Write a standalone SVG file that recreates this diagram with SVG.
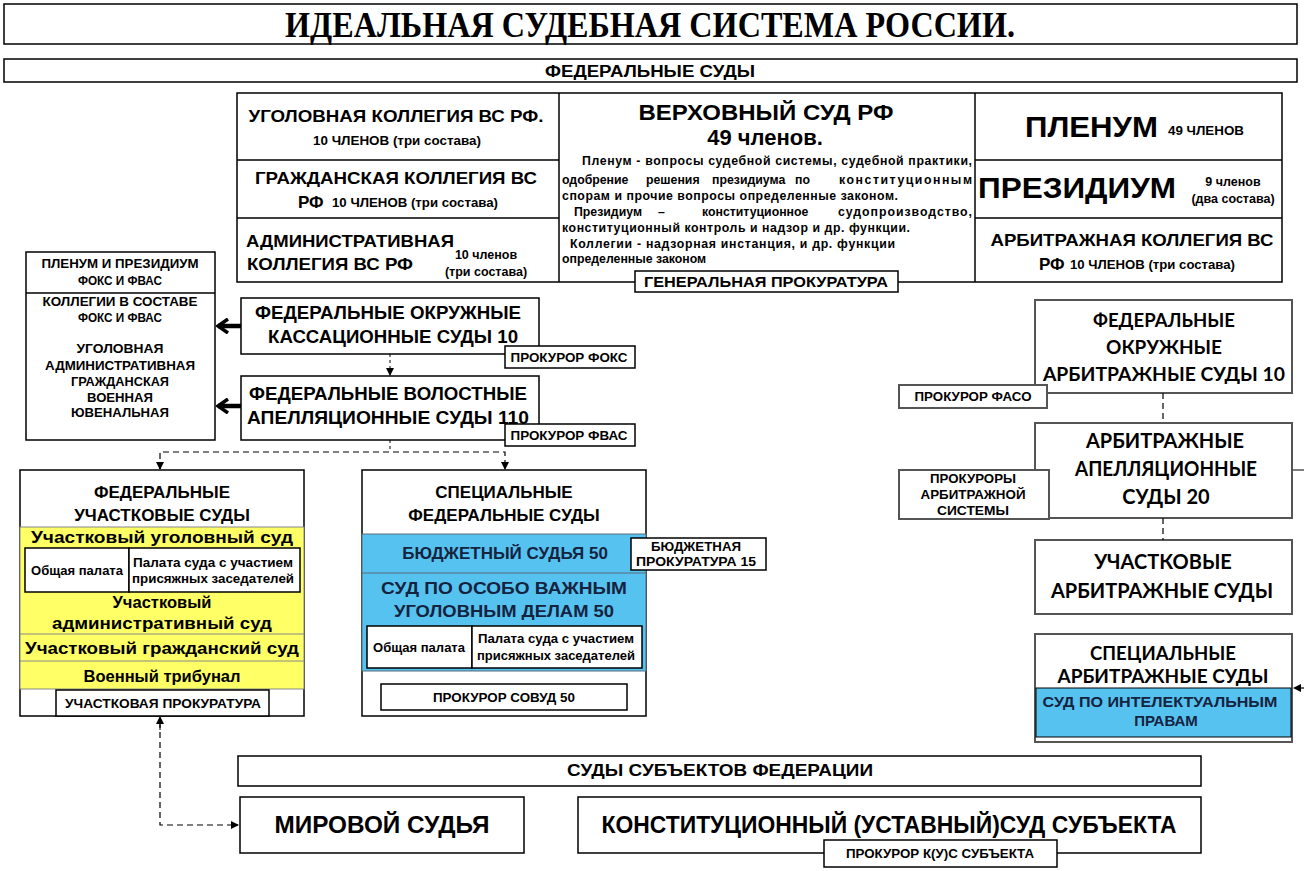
<svg xmlns="http://www.w3.org/2000/svg" width="1304" height="871" viewBox="0 0 1304 871">
<defs>
<style>
text{font-family:"Liberation Sans",Arial,sans-serif;font-weight:bold;fill:#000;}
.c{text-anchor:middle;}
.box{fill:#fff;stroke:#000;stroke-width:1.5;}
.gbox{fill:#fff;stroke:#555;stroke-width:2;}
.ln{stroke:#000;stroke-width:1.5;fill:none;}
.yl{fill:#ffff66;stroke:#888;stroke-width:1;}
.bl{fill:#55c2ef;stroke:#5a6b7a;stroke-width:1;}
.navy{fill:#15233f;}
.cal{font-family:Lato,"Open Sans",sans-serif;}
.dash{stroke:#000;stroke-width:1.2;fill:none;stroke-dasharray:6 4;}
.dot{stroke:#000;stroke-width:1;fill:none;stroke-dasharray:3 3;}
</style>
<marker id="ah" markerWidth="8" markerHeight="8" refX="7" refY="4" orient="auto" markerUnits="userSpaceOnUse">
<path d="M0,0 L8,4 L0,8 Z" fill="#000"/>
</marker>
<marker id="thick" markerWidth="14" markerHeight="16" refX="12" refY="8" orient="auto" markerUnits="userSpaceOnUse">
<path d="M2,1 L12,8 L2,15" fill="none" stroke="#000" stroke-width="3.5"/>
</marker>
</defs>
<rect width="1304" height="871" fill="#fff"/>

<g id="title">
<rect class="box" x="4" y="4" width="1293" height="40"/>
<text class="c" x="650" y="37" style="font-family:'Liberation Serif',serif;font-size:36px" textLength="730" lengthAdjust="spacingAndGlyphs">ИДЕАЛЬНАЯ СУДЕБНАЯ СИСТЕМА РОССИИ.</text>
</g>

<g id="federal-courts">
<rect class="box" x="4" y="59" width="1293" height="23"/>
<text class="c" x="650" y="77" font-size="16" textLength="210" lengthAdjust="spacingAndGlyphs">ФЕДЕРАЛЬНЫЕ СУДЫ</text>
</g>

<g id="supreme-court">
<rect class="box" x="237" y="93" width="1045" height="189"/>
<line class="ln" x1="559" y1="93" x2="559" y2="282"/>
<line class="ln" x1="975" y1="93" x2="975" y2="282"/>
<line class="ln" x1="237" y1="160" x2="559" y2="160"/>
<line class="ln" x1="237" y1="218" x2="559" y2="218"/>
<line class="ln" x1="975" y1="160" x2="1282" y2="160"/>
<line class="ln" x1="975" y1="218" x2="1282" y2="218"/>
</g>

<g id="criminal-college">
<text class="c" x="396" y="122" font-size="17" textLength="295" lengthAdjust="spacingAndGlyphs">УГОЛОВНАЯ КОЛЛЕГИЯ ВС РФ.</text>
<text class="c" x="397" y="145" font-size="12.5" textLength="168" lengthAdjust="spacingAndGlyphs">10 ЧЛЕНОВ (три состава)</text>
</g>
<g id="civil-college">
<text class="c" x="396" y="184" font-size="17" textLength="282" lengthAdjust="spacingAndGlyphs">ГРАЖДАНСКАЯ КОЛЛЕГИЯ ВС</text>
<text x="298" y="208" font-size="17">РФ</text>
<text x="332" y="207" font-size="12.5" textLength="166" lengthAdjust="spacingAndGlyphs">10 ЧЛЕНОВ (три состава)</text>
</g>
<g id="admin-college">
<text x="246" y="247" font-size="17" textLength="208" lengthAdjust="spacingAndGlyphs">АДМИНИСТРАТИВНАЯ</text>
<text x="247" y="270" font-size="17" textLength="166" lengthAdjust="spacingAndGlyphs">КОЛЛЕГИЯ ВС РФ</text>
<text class="c" x="486" y="259" font-size="12.5">10 членов</text>
<text class="c" x="486" y="276" font-size="12.5">(три состава)</text>
</g>

<g id="supreme-main">
<text class="c" x="766" y="120" font-size="22" textLength="255" lengthAdjust="spacingAndGlyphs">ВЕРХОВНЫЙ СУД РФ</text>
<text class="c" x="765" y="145" font-size="22">49 членов.</text>
<g font-size="12.3">
<text x="582" y="165" textLength="390" lengthAdjust="spacing">Пленум - вопросы судебной системы, судебной практики,</text>
<text x="562" y="184">одобрение</text>
<text x="646" y="184">решения</text>
<text x="712" y="184">президиума</text>
<text x="795" y="184">по</text>
<text x="839" y="184" textLength="133" lengthAdjust="spacing">конституционным</text>
<text x="562" y="200" textLength="336" lengthAdjust="spacing">спорам и прочие вопросы определенные законом.</text>
<text x="574" y="216">Президиум</text>
<text x="658" y="216">–</text>
<text x="702" y="216">конституционное</text>
<text x="838" y="216" textLength="134" lengthAdjust="spacing">судопроизводство,</text>
<text x="562" y="232" textLength="348" lengthAdjust="spacing">конституционный контроль и надзор и др. функции.</text>
<text x="570" y="248" textLength="325" lengthAdjust="spacing">Коллегии -  надзорная инстанция, и др. функции</text>
<text x="562" y="263">определенные законом</text>
</g>
</g>

<g id="general-prosecutor">
<rect class="box" x="635" y="271" width="263" height="21"/>
<text class="c" x="766" y="287" font-size="15" textLength="244" lengthAdjust="spacingAndGlyphs">ГЕНЕРАЛЬНАЯ ПРОКУРАТУРА</text>
</g>

<g id="plenum">
<text x="1025" y="137" font-size="30" textLength="133" lengthAdjust="spacingAndGlyphs">ПЛЕНУМ</text>
<text x="1168" y="135" font-size="12.5" textLength="76" lengthAdjust="spacingAndGlyphs">49 ЧЛЕНОВ</text>
</g>
<g id="presidium">
<text x="978" y="198" font-size="30" textLength="198" lengthAdjust="spacingAndGlyphs">ПРЕЗИДИУМ</text>
<text class="c" x="1233" y="186" font-size="12.5">9 членов</text>
<text class="c" x="1233" y="203" font-size="12.5">(два состава)</text>
</g>
<g id="arbitration-college">
<text class="c" x="1132" y="246" font-size="17" textLength="283" lengthAdjust="spacingAndGlyphs">АРБИТРАЖНАЯ КОЛЛЕГИЯ ВС</text>
<text x="1039" y="270" font-size="17">РФ</text>
<text x="1070" y="269" font-size="12.5" textLength="165" lengthAdjust="spacingAndGlyphs">10 ЧЛЕНОВ (три состава)</text>
</g>

<g id="foks-fvas-panel">
<rect class="box" x="26" y="252" width="189" height="188"/>
<line class="ln" x1="26" y1="293" x2="215" y2="293"/>
<g font-size="13">
<text class="c" x="120" y="268" textLength="157" lengthAdjust="spacingAndGlyphs">ПЛЕНУМ И ПРЕЗИДИУМ</text>
<text class="c" x="120" y="285" textLength="84" lengthAdjust="spacingAndGlyphs">ФОКС И ФВАС</text>
<text class="c" x="120" y="306" textLength="155" lengthAdjust="spacingAndGlyphs">КОЛЛЕГИИ В СОСТАВЕ</text>
<text class="c" x="120" y="322" textLength="84" lengthAdjust="spacingAndGlyphs">ФОКС И ФВАС</text>
<text class="c" x="120" y="353" textLength="87" lengthAdjust="spacingAndGlyphs">УГОЛОВНАЯ</text>
<text class="c" x="120" y="370" textLength="150" lengthAdjust="spacingAndGlyphs">АДМИНИСТРАТИВНАЯ</text>
<text class="c" x="120" y="386" textLength="98" lengthAdjust="spacingAndGlyphs">ГРАЖДАНСКАЯ</text>
<text class="c" x="120" y="402" textLength="66" lengthAdjust="spacingAndGlyphs">ВОЕННАЯ</text>
<text class="c" x="120" y="417" textLength="98" lengthAdjust="spacingAndGlyphs">ЮВЕНАЛЬНАЯ</text>
</g>
</g>

<g id="cassation">
<rect class="box" x="241" y="298" width="298" height="56"/>
<text class="c" x="388" y="319" font-size="17.5" textLength="266" lengthAdjust="spacingAndGlyphs">ФЕДЕРАЛЬНЫЕ ОКРУЖНЫЕ</text>
<text class="c" x="393" y="343" font-size="17.5" textLength="250" lengthAdjust="spacingAndGlyphs">КАССАЦИОННЫЕ СУДЫ 10</text>
</g>
<g id="prosecutor-foks">
<rect class="box" x="505" y="346" width="130" height="22"/>
<text class="c" x="569" y="362" font-size="13" textLength="117" lengthAdjust="spacingAndGlyphs">ПРОКУРОР ФОКС</text>
</g>

<g id="appellate">
<rect class="box" x="241" y="376" width="298" height="64"/>
<text class="c" x="388" y="400" font-size="17.5" textLength="278" lengthAdjust="spacingAndGlyphs">ФЕДЕРАЛЬНЫЕ ВОЛОСТНЫЕ</text>
<text class="c" x="388" y="424" font-size="17.5" textLength="282" lengthAdjust="spacingAndGlyphs">АПЕЛЛЯЦИОННЫЕ СУДЫ 110</text>
</g>
<g id="prosecutor-fvas">
<rect class="box" x="505" y="424" width="130" height="22"/>
<text class="c" x="569" y="440" font-size="13" textLength="117" lengthAdjust="spacingAndGlyphs">ПРОКУРОР ФВАС</text>
</g>

<g id="district-courts">
<rect class="box" x="20" y="470" width="284" height="246"/>
<text class="c" x="162" y="498" font-size="17">ФЕДЕРАЛЬНЫЕ</text>
<text class="c" x="162" y="521" font-size="17">УЧАСТКОВЫЕ СУДЫ</text>
<rect class="yl" x="20" y="527" width="284" height="162"/>
<text class="c" x="162" y="543" font-size="16.5" textLength="262" lengthAdjust="spacingAndGlyphs">Участковый уголовный суд</text>
<rect class="box" x="25" y="548" width="104" height="44" stroke-width="1"/>
<rect class="box" x="129" y="548" width="171" height="44" stroke-width="1"/>
<text class="c" x="77" y="575" font-size="12.5" textLength="92" lengthAdjust="spacingAndGlyphs">Общая палата</text>
<text class="c" x="213" y="567" font-size="12.5" textLength="160" lengthAdjust="spacingAndGlyphs">Палата суда с участием</text>
<text class="c" x="213" y="583" font-size="12.5" textLength="162" lengthAdjust="spacingAndGlyphs">присяжных заседателей</text>
<text class="c" x="162" y="608" font-size="16.5">Участковый</text>
<text class="c" x="162" y="629" font-size="16.5" textLength="220" lengthAdjust="spacingAndGlyphs">административный суд</text>
<line x1="20" y1="634" x2="304" y2="634" stroke="#888" stroke-width="1"/>
<text class="c" x="162" y="654" font-size="16.5" textLength="274" lengthAdjust="spacingAndGlyphs">Участковый гражданский суд</text>
<line x1="20" y1="661" x2="304" y2="661" stroke="#888" stroke-width="1"/>
<text class="c" x="162" y="682" font-size="16.5">Военный трибунал</text>
<rect class="box" x="56" y="690" width="213" height="26" stroke-width="1.2"/>
<text class="c" x="163" y="708" font-size="13" textLength="196" lengthAdjust="spacingAndGlyphs">УЧАСТКОВАЯ ПРОКУРАТУРА</text>
</g>

<g id="special-federal-courts">
<rect class="box" x="362" y="470" width="284" height="246"/>
<text class="c" x="504" y="498" font-size="17">СПЕЦИАЛЬНЫЕ</text>
<text class="c" x="504" y="521" font-size="17">ФЕДЕРАЛЬНЫЕ СУДЫ</text>
<rect class="bl" x="362" y="534" width="284" height="137"/>
<line x1="362" y1="573" x2="646" y2="573" stroke="#5a6b7a" stroke-width="1"/>
<text class="c navy" x="505" y="559" font-size="17">БЮДЖЕТНЫЙ СУДЬЯ 50</text>
<text class="c navy" x="504" y="594" font-size="17" textLength="246" lengthAdjust="spacingAndGlyphs">СУД ПО ОСОБО ВАЖНЫМ</text>
<text class="c navy" x="504" y="617" font-size="17" textLength="220" lengthAdjust="spacingAndGlyphs">УГОЛОВНЫМ ДЕЛАМ 50</text>
<rect class="box" x="367" y="626" width="105" height="42" stroke-width="1"/>
<rect class="box" x="472" y="626" width="170" height="42" stroke-width="1"/>
<text class="c" x="419" y="652" font-size="12.5" textLength="92" lengthAdjust="spacingAndGlyphs">Общая палата</text>
<text class="c" x="556" y="643" font-size="12.5" textLength="156" lengthAdjust="spacingAndGlyphs">Палата суда с участием</text>
<text class="c" x="556" y="660" font-size="12.5" textLength="158" lengthAdjust="spacingAndGlyphs">присяжных заседателей</text>
<rect class="box" x="381" y="684" width="246" height="26" stroke-width="1.2"/>
<text class="c" x="504" y="702" font-size="13" textLength="142" lengthAdjust="spacingAndGlyphs">ПРОКУРОР СОВУД 50</text>
</g>
<g id="budget-prosecutor">
<rect class="box" x="631" y="538" width="135" height="32" stroke-width="1.2"/>
<text class="c" x="696" y="551" font-size="13" textLength="90" lengthAdjust="spacingAndGlyphs">БЮДЖЕТНАЯ</text>
<text class="c" x="696" y="566" font-size="13" textLength="120" lengthAdjust="spacingAndGlyphs">ПРОКУРАТУРА 15</text>
</g>

<g id="arb-circuit">
<rect class="gbox" x="1035" y="300" width="257" height="93"/>
<text class="c cal" x="1164" y="327" font-size="19" textLength="142" lengthAdjust="spacingAndGlyphs">ФЕДЕРАЛЬНЫЕ</text>
<text class="c cal" x="1164" y="354" font-size="19">ОКРУЖНЫЕ</text>
<text class="c cal" x="1164" y="381" font-size="19" textLength="242" lengthAdjust="spacingAndGlyphs">АРБИТРАЖНЫЕ СУДЫ 10</text>
</g>
<g id="prosecutor-faso">
<rect class="gbox" x="899" y="385" width="148" height="23" stroke-width="1.5"/>
<text class="c" x="973" y="401" font-size="13" textLength="117" lengthAdjust="spacingAndGlyphs">ПРОКУРОР ФАСО</text>
</g>
<g id="arb-appellate">
<rect class="gbox" x="1035" y="423" width="257" height="95"/>
<text class="c cal" x="1165" y="448" font-size="20">АРБИТРАЖНЫЕ</text>
<text class="c cal" x="1166" y="476" font-size="20" textLength="182" lengthAdjust="spacingAndGlyphs">АПЕЛЛЯЦИОННЫЕ</text>
<text class="c cal" x="1166" y="504" font-size="20">СУДЫ 20</text>
</g>
<g id="arb-prosecutors">
<rect class="gbox" x="899" y="470" width="150" height="49" stroke-width="1.5"/>
<text class="c" x="973" y="483" font-size="12.5" textLength="86" lengthAdjust="spacingAndGlyphs">ПРОКУРОРЫ</text>
<text class="c" x="973" y="499" font-size="12.5" textLength="105" lengthAdjust="spacingAndGlyphs">АРБИТРАЖНОЙ</text>
<text class="c" x="973" y="515" font-size="12.5" textLength="72" lengthAdjust="spacingAndGlyphs">СИСТЕМЫ</text>
</g>
<g id="arb-district">
<rect class="gbox" x="1035" y="540" width="257" height="74"/>
<text class="c cal" x="1163" y="569" font-size="20">УЧАСТКОВЫЕ</text>
<text class="c cal" x="1162" y="598" font-size="20" textLength="222" lengthAdjust="spacingAndGlyphs">АРБИТРАЖНЫЕ СУДЫ</text>
</g>
<g id="arb-special">
<rect class="gbox" x="1035" y="634" width="257" height="108"/>
<text class="c cal" x="1163" y="660" font-size="18.5">СПЕЦИАЛЬНЫЕ</text>
<text class="c cal" x="1163" y="683" font-size="18.5" textLength="211" lengthAdjust="spacingAndGlyphs">АРБИТРАЖНЫЕ СУДЫ</text>
<rect x="1036" y="688" width="255" height="49" fill="#55c2ef" stroke="#000" stroke-width="1"/>
<text class="c navy" x="1160" y="707" font-size="15" textLength="235" lengthAdjust="spacingAndGlyphs">СУД ПО ИНТЕЛЕКТУАЛЬНЫМ</text>
<text class="c navy" x="1166" y="726" font-size="15">ПРАВАМ</text>
</g>

<g id="subject-courts">
<rect class="box" x="238" y="756" width="963" height="30"/>
<text class="c" x="720" y="776" font-size="17" textLength="306" lengthAdjust="spacingAndGlyphs">СУДЫ СУБЪЕКТОВ ФЕДЕРАЦИИ</text>
</g>
<g id="magistrate">
<rect class="box" x="240" y="797" width="284" height="56"/>
<text class="c" x="382" y="833" font-size="23" textLength="215" lengthAdjust="spacingAndGlyphs">МИРОВОЙ СУДЬЯ</text>
</g>
<g id="constitutional-court">
<rect class="box" x="578" y="797" width="623" height="56"/>
<text class="c" x="889" y="833" font-size="23" textLength="575" lengthAdjust="spacingAndGlyphs">КОНСТИТУЦИОННЫЙ (УСТАВНЫЙ)СУД СУБЪЕКТА</text>
</g>
<g id="prosecutor-kus">
<rect class="box" x="824" y="840" width="233" height="27"/>
<text class="c" x="940" y="858" font-size="12" textLength="188" lengthAdjust="spacingAndGlyphs">ПРОКУРОР К(У)С СУБЪЕКТА</text>
</g>

<g id="connectors">
<line x1="241" y1="326" x2="218" y2="326" stroke="#000" stroke-width="4.5" marker-end="url(#thick)"/>
<line x1="241" y1="406" x2="218" y2="406" stroke="#000" stroke-width="4.5" marker-end="url(#thick)"/>
<line class="dot" x1="390" y1="354" x2="390" y2="375" marker-end="url(#ah)"/>
<line class="dot" x1="390" y1="440" x2="390" y2="452"/>
<polyline class="dash" points="160,469 160,452 505,452 505,469"/>
<line x1="160" y1="462" x2="160" y2="469" stroke="#000" marker-end="url(#ah)"/>
<line x1="505" y1="462" x2="505" y2="469" stroke="#000" marker-end="url(#ah)"/>
<polyline class="dash" points="160,722 160,825 238,825" marker-end="url(#ah)"/>
<line x1="160" y1="730" x2="160" y2="717" stroke="#000" marker-end="url(#ah)"/>
<line class="dash" x1="1163" y1="393" x2="1163" y2="423"/>
<line class="dash" x1="1163" y1="518" x2="1163" y2="540"/>
<line x1="1292" y1="470" x2="1304" y2="470" stroke="#555" stroke-width="1.5"/>
<line class="dash" x1="1304" y1="688" x2="1294" y2="688" marker-end="url(#ah)"/>
</g>
</svg>
